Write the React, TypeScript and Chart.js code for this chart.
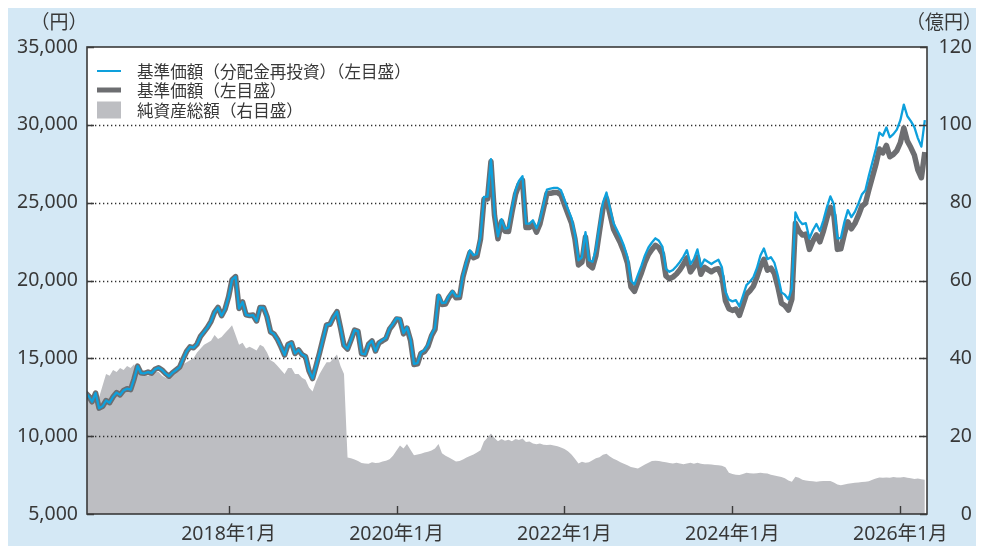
import React, { useEffect, useRef } from "react";
import { Chart, registerables } from "chart.js";

Chart.register(...registerables);

// Semi-monthly observation dates start here (1st and 16th of each month)
const START_YEAR = 2016;
const START_MONTH = 4;
const START_DAY = 16;

// 基準価額(分配金再投資) 円
const navReinvested = [
  12800, 12580, 12210, 12770, 11800, 11920, 12290, 12150, 12530, 12800,
  12650, 12940, 13050, 12990, 13670, 14500, 14050, 14040, 14120, 14050,
  14300, 14400, 14250, 14020, 13850, 14080, 14250, 14430, 14950, 15440,
  15740, 15680, 15920, 16420, 16700, 17000, 17380, 17970, 18270, 17740,
  18150, 18950, 20050, 20250, 18200, 18620, 17790, 17750, 17780, 17400,
  18270, 18260, 17680, 16700, 16560, 16210, 15740, 15210, 15890, 16000,
  15310, 15540, 15240, 15110, 14200, 13700, 14500, 15350, 16250, 17150,
  17190, 17650, 18000, 16950, 15830, 15600, 16180, 16810, 16730, 15300,
  15250, 15900, 16120, 15470, 16000, 16180, 16320, 16920, 17220, 17580,
  17540, 16620, 16990, 16200, 14650, 14700, 15370, 15530, 15860, 16540,
  16950, 19080, 18550, 18580, 19010, 19320, 18980, 18990, 20330, 21230,
  21940, 21620, 21710, 22800, 25370, 25390, 27800, 24330, 22830, 23940,
  23320, 23400, 24630, 25780, 26400, 26700, 23650, 23650, 23870, 23350,
  23880, 24860, 25840, 25900, 25950, 25950, 25800, 25180, 24580, 24000,
  22970, 21300, 21480, 23100, 21300, 21200, 21990, 23530, 25000, 25650,
  24660, 23690, 23240, 22780, 22230, 21500, 19980, 19750, 20360, 20950,
  21610, 22120, 22440, 22710, 22550, 22170, 20750, 20560, 20670, 20920,
  21190, 21540, 21950, 21050, 21370, 22000, 20900, 21350, 21200, 21060,
  21210, 21330, 20850, 19290, 18770, 18660, 18740, 18340, 19000, 19700,
  19920, 20220, 20790, 21600, 22060, 21370, 21500, 21140, 20300, 19240,
  19090, 18800, 19500, 24370, 23880, 23620, 23680, 22700, 23230, 23630,
  23180, 23870, 24700, 25400, 24900, 22700, 22730, 23750, 24520, 24070,
  24410, 24930, 25520, 25800, 26720, 27600, 28450, 29500, 29300, 29830,
  29200, 29400, 29690, 30300, 31300, 30550, 30240, 29850, 29150, 28600,
  30300,
];

// 基準価額 円
const nav = [
  12800, 12580, 12210, 12770, 11800, 11920, 12290, 12150, 12530, 12800,
  12650, 12940, 13050, 12990, 13670, 14500, 14050, 14040, 14120, 14050,
  14300, 14400, 14250, 14020, 13850, 14080, 14250, 14430, 14950, 15440,
  15740, 15680, 15920, 16420, 16700, 17000, 17380, 17970, 18270, 17740,
  18150, 18950, 20050, 20250, 18200, 18620, 17790, 17750, 17780, 17400,
  18270, 18260, 17680, 16700, 16560, 16210, 15740, 15210, 15890, 16000,
  15310, 15540, 15240, 15110, 14200, 13700, 14500, 15350, 16250, 17150,
  17190, 17650, 18000, 16950, 15830, 15600, 16180, 16810, 16730, 15300,
  15250, 15900, 16120, 15470, 16000, 16130, 16270, 16870, 17170, 17530,
  17490, 16570, 16940, 16150, 14600, 14650, 15320, 15440, 15770, 16450,
  16860, 18990, 18460, 18490, 18920, 19230, 18890, 18900, 20240, 21080,
  21790, 21470, 21560, 22650, 25220, 25240, 27650, 24180, 22680, 23790,
  23170, 23150, 24380, 25530, 26150, 26450, 23400, 23400, 23620, 23100,
  23630, 24610, 25590, 25600, 25650, 25650, 25500, 24880, 24280, 23700,
  22670, 21000, 21180, 22800, 21000, 20820, 21610, 23150, 24620, 25270,
  24280, 23310, 22860, 22400, 21850, 21120, 19600, 19300, 19910, 20500,
  21160, 21670, 21990, 22260, 22100, 21720, 20300, 20110, 20220, 20420,
  20690, 21040, 21450, 20550, 20870, 21500, 20400, 20850, 20700, 20560,
  20710, 20750, 20270, 18710, 18190, 18080, 18160, 17760, 18420, 19120,
  19340, 19640, 20210, 20900, 21360, 20670, 20800, 20440, 19600, 18540,
  18390, 18100, 18800, 23670, 23180, 22920, 22980, 22000, 22530, 22930,
  22480, 23170, 24000, 24700, 24200, 22000, 22030, 23000, 23770, 23320,
  23660, 24180, 24770, 24950, 25820, 26650, 27450, 28450, 28200, 28680,
  27950, 28100, 28340, 28850, 29800, 28950, 28540, 28050, 27100, 26600,
  28250,
];

// 純資産総額 億円
const netAssets = [
  30, 30.5, 30, 31, 30, 33, 36, 35.5, 37, 36.5,
  37.5, 37, 38, 37.5, 38.5, 36.5, 35.5, 36, 35.5, 36,
  36.5, 36.5, 35.5, 35, 35.5, 36, 36.5, 37, 38.5, 39,
  39.5, 40, 41.5, 42.5, 43.5, 44, 44.5, 46, 45, 45.5,
  46.5, 47.5, 48.5, 46, 43.5, 44, 42.5, 43, 42.5, 42,
  43.5, 43, 41.5, 39.5, 39, 38, 37, 36, 37.5, 37.5,
  36, 36, 35, 34.5, 32.5, 31.5, 34, 36, 37.5, 39,
  39, 40, 41, 38, 36, 14.5, 14.3, 14.0, 13.6, 13.1,
  13.0, 12.9, 13.3, 13.1, 13.2, 13.5, 13.7, 14.1, 15.0, 16.3,
  17.6, 16.8, 18.0, 16.5, 15.1, 15.3, 15.5, 15.8, 16.0, 16.3,
  16.8, 18.0, 15.6, 15.0, 14.5, 14.0, 13.5, 13.6, 14.0, 14.5,
  14.9, 15.3, 15.8, 16.4, 18.6, 19.6, 20.7, 19.5, 18.7, 19.3,
  18.8, 19.1, 18.7, 19.3, 19.0, 19.4, 18.5, 18.6, 18.1, 17.9,
  18.1, 17.8, 17.7, 17.8, 17.6, 17.4, 17.1, 16.7, 16.1, 15.3,
  14.2, 13.0, 13.4, 13.2, 13.3, 13.8, 14.3, 14.6, 15.2, 15.5,
  14.8, 14.2, 13.8, 13.3, 12.9, 12.5, 12.1, 11.9, 11.7, 12.2,
  12.7, 13.2, 13.6, 13.7, 13.6, 13.4, 13.3, 13.1, 13.0, 13.2,
  13.0, 12.8, 13.0, 13.2, 12.9, 13.2, 12.9, 12.8, 12.8, 12.7,
  12.6, 12.5, 12.4, 12.0, 10.6, 10.3, 10.1, 10.0, 10.3, 10.6,
  10.5, 10.4, 10.5, 10.6, 10.5, 10.4, 10.1, 9.9, 9.7, 9.5,
  9.2, 8.6, 8.3, 9.6, 9.3, 8.8, 8.6, 8.5, 8.4, 8.3,
  8.4, 8.5, 8.5, 8.5, 8.1, 7.6, 7.4, 7.6, 7.8, 7.9,
  8.0, 8.1, 8.2, 8.3, 8.4, 8.8, 9.1, 9.4, 9.3, 9.4,
  9.3, 9.5, 9.4, 9.4, 9.5, 9.3, 9.2, 9.0, 9.1, 8.9,
  8.8,
];

const xTickYears = [2018, 2020, 2022, 2024, 2026];
const xMin = 2016.314;
const xMax = 2026.317;
const leftAxis = { min: 5000, max: 35000, step: 5000, title: "（円）" };
const rightAxis = { min: 0, max: 120, step: 20, title: "（億円）" };
const legendLabels = [
  "基準価額（分配金再投資）（左目盛）",
  "基準価額（左目盛）",
  "純資産総額（右目盛）",
];

const BG = "#d4e8f5";
const BLUE = "#0ea0dc";
const GRAY_LINE = "#6d6e71";
const AREA = "#bdbec2";
const INK = "#383838";
const FRAME = "#3a3a3a";
const TICK_FONT = "'Noto Sans', 'Noto Sans CJK JP', sans-serif";
const CJK_FONT = "'Noto Sans CJK JP', sans-serif";

function buildDates(n: number): number[] {
  const out: number[] = [];
  let y = START_YEAR;
  let m = START_MONTH;
  let d = START_DAY;
  for (let i = 0; i < n; i++) {
    out.push(y + (m - 1 + (d - 1) / 30.4) / 12);
    if (d === 16) {
      d = 1;
      m++;
      if (m > 12) {
        m = 1;
        y++;
      }
    } else {
      d = 16;
    }
  }
  return out;
}

const decor = {
  id: "decor",
  beforeDraw(chart: any) {
    const { ctx, width, height, chartArea: a } = chart;
    ctx.save();
    ctx.fillStyle = BG;
    ctx.fillRect(0, 0, width, height);
    ctx.fillStyle = "#ffffff";
    ctx.fillRect(a.left, a.top, a.right - a.left, a.bottom - a.top);
    ctx.restore();
  },
  afterDatasetDraw(chart: any, args: any) {
    if (args.index !== 2) return;
    const { ctx, chartArea: a } = chart;
    const ys = chart.scales.y;
    ctx.save();
    ctx.setLineDash([1.3, 2.7]);
    ctx.lineWidth = 1.3;
    ctx.strokeStyle = "#2e2e2e";
    ys.ticks.forEach((t: any) => {
      if (t.value <= ys.min || t.value >= ys.max) return;
      const py = Math.round(ys.getPixelForValue(t.value)) + 0.5;
      ctx.beginPath();
      ctx.moveTo(a.left, py);
      ctx.lineTo(a.right, py);
      ctx.stroke();
    });
    ctx.restore();
  },
  afterDatasetsDraw(chart: any) {
    const { ctx, chartArea: a } = chart;
    const ys = chart.scales.y;
    const xs = chart.scales.x;
    ctx.save();
    ctx.strokeStyle = FRAME;
    ctx.lineWidth = 1.6;
    ctx.setLineDash([]);
    ctx.strokeRect(a.left, a.top, a.right - a.left, a.bottom - a.top);
    ctx.lineWidth = 1.4;
    ys.ticks.forEach((t: any) => {
      const py = Math.round(ys.getPixelForValue(t.value)) + 0.5;
      ctx.beginPath();
      ctx.moveTo(a.left, py);
      ctx.lineTo(a.left + 7, py);
      ctx.moveTo(a.right, py);
      ctx.lineTo(a.right - 7, py);
      ctx.stroke();
    });
    xs.ticks.forEach((t: any) => {
      const px = Math.round(xs.getPixelForValue(t.value)) + 0.5;
      ctx.beginPath();
      ctx.moveTo(px, a.bottom);
      ctx.lineTo(px, a.bottom - 8);
      ctx.stroke();
    });
    ctx.restore();
  },
  afterDraw(chart: any) {
    const { ctx, chartArea: a } = chart;
    ctx.save();
    // axis unit titles
    ctx.fillStyle = INK;
    ctx.font = `19px ${CJK_FONT}`;
    ctx.textBaseline = "middle";
    ctx.textAlign = "center";
    ctx.fillText(leftAxis.title, 51, 14);
    ctx.fillText(rightAxis.title, 936, 14);

    // legend
    const lx = a.left + 10;
    const rows = [a.top + 24, a.top + 43, a.top + 63];
    ctx.setLineDash([]);
    ctx.strokeStyle = BLUE;
    ctx.lineWidth = 2;
    ctx.beginPath();
    ctx.moveTo(lx, rows[0]);
    ctx.lineTo(lx + 24, rows[0]);
    ctx.stroke();
    ctx.strokeStyle = GRAY_LINE;
    ctx.lineWidth = 5;
    ctx.beginPath();
    ctx.moveTo(lx, rows[1]);
    ctx.lineTo(lx + 24, rows[1]);
    ctx.stroke();
    ctx.fillStyle = AREA;
    ctx.fillRect(lx, rows[2] - 8.5, 24, 17);

    ctx.fillStyle = INK;
    ctx.font = `16.6px ${CJK_FONT}`;
    ctx.textAlign = "left";
    legendLabels.forEach((s, i) => ctx.fillText(s, lx + 40, rows[i] + 1));
    ctx.restore();
  },
};

export default function App() {
  const ref = useRef<HTMLCanvasElement | null>(null);

  useEffect(() => {
    if (!ref.current) return;
    const dates = buildDates(navReinvested.length);
    const tickFont = { family: TICK_FONT, size: 19.5 };
    const chart = new Chart(ref.current, {
      type: "line",
      data: {
        datasets: [
          {
            label: legendLabels[0],
            data: dates.map((x, i) => ({ x, y: navReinvested[i] })),
            yAxisID: "y",
            borderColor: BLUE,
            borderWidth: 2.3,
            pointRadius: 0,
            tension: 0,
            fill: false,
            order: 1,
            clip: 0,
            borderJoinStyle: "round",
          },
          {
            label: legendLabels[1],
            data: dates.map((x, i) => ({ x, y: nav[i] })),
            yAxisID: "y",
            borderColor: GRAY_LINE,
            borderWidth: 5.5,
            pointRadius: 0,
            tension: 0,
            fill: false,
            order: 2,
            clip: 0,
            borderJoinStyle: "round",
          },
          {
            label: legendLabels[2],
            data: dates.map((x, i) => ({ x, y: netAssets[i] })),
            yAxisID: "y1",
            borderColor: "rgba(0,0,0,0)",
            borderWidth: 0,
            backgroundColor: AREA,
            pointRadius: 0,
            tension: 0,
            fill: "origin",
            order: 3,
            clip: 0,
          },
        ],
      } as any,
      options: {
        responsive: false,
        animation: false,
        events: [],
        layout: { padding: { top: 39, right: 12, left: 0, bottom: 0 } },
        plugins: {
          legend: { display: false },
          tooltip: { enabled: false },
        },
        scales: {
          x: {
            type: "linear",
            min: xMin,
            max: xMax,
            grid: { display: false, drawTicks: false },
            border: { display: false },
            afterBuildTicks: (s: any) => {
              s.ticks = xTickYears.map((v) => ({ value: v }));
            },
            afterFit: (s: any) => {
              s.height = 32;
            },
            ticks: {
              autoSkip: false,
              maxRotation: 0,
              padding: 9,
              color: INK,
              font: tickFont,
              callback: (v: any) => `${v}年1月`,
            },
          },
          y: {
            position: "left",
            min: leftAxis.min,
            max: leftAxis.max,
            grid: { display: false, drawTicks: false },
            border: { display: false },
            afterFit: (s: any) => {
              s.width = 79;
            },
            ticks: {
              stepSize: leftAxis.step,
              padding: 9,
              color: INK,
              font: tickFont,
              callback: (v: any) => Number(v).toLocaleString("en-US"),
            },
          },
          y1: {
            position: "right",
            min: rightAxis.min,
            max: rightAxis.max,
            grid: { display: false, drawTicks: false },
            border: { display: false },
            afterFit: (s: any) => {
              s.width = 45;
            },
            ticks: {
              stepSize: rightAxis.step,
              padding: 9,
              crossAlign: "far",
              color: INK,
              font: tickFont,
            },
          },
        },
      } as any,
      plugins: [decor],
    });
    return () => chart.destroy();
  }, []);

  return (
    <div style={{ width: 976, height: 538 }}>
      <canvas ref={ref} width={976} height={538} style={{ display: "block" }} />
    </div>
  );
}
